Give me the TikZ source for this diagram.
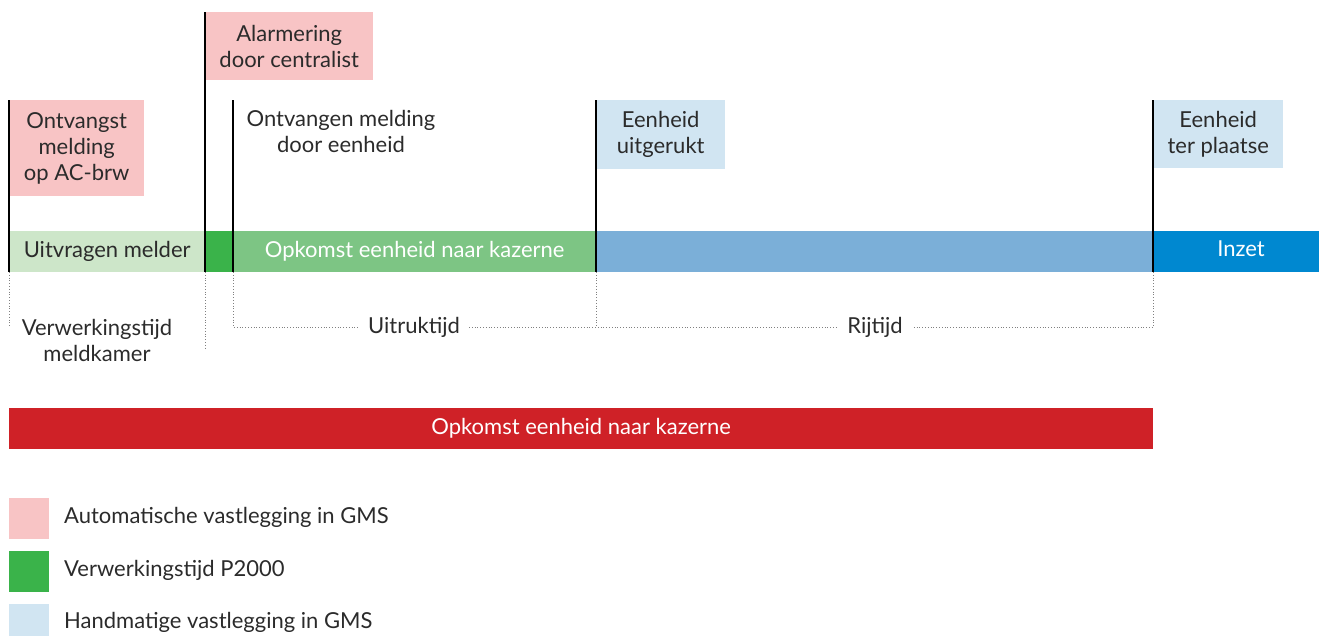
\documentclass[tikz,border=0pt]{standalone}
\usepackage{fontspec}
\setmainfont{Lato}
\definecolor{pinkbox}{HTML}{F8C4C5}
\definecolor{lblue}{HTML}{D1E5F2}
\definecolor{lgreen}{HTML}{CDE6C9}
\definecolor{dgreen}{HTML}{3AB34A}
\definecolor{mgreen}{HTML}{7DC584}
\definecolor{mblue}{HTML}{7BAFD8}
\definecolor{inzet}{HTML}{0088D0}
\definecolor{redbar}{HTML}{CF2127}
\definecolor{txt}{HTML}{2B2B2B}
\tikzset{
  lbl/.style={font=\fontsize{22}{26}\selectfont, text=txt, align=center, inner sep=0pt},
  box/.style={lbl, anchor=north west},
  seg/.style={anchor=north west, inner sep=0pt, minimum height=41pt, font=\fontsize{22}{26}\selectfont, align=center},
  tick/.style={line width=1.6pt, black},
  dots/.style={gray, dotted, line width=0.8pt},
  legsq/.style={anchor=north west, inner sep=0pt, minimum width=40pt, minimum height=41pt},
}
\begin{document}
\begin{tikzpicture}[x=1pt,y=-1pt]
\useasboundingbox (0,0) rectangle (1319,635);
% top boxes
\node[box, fill=pinkbox, minimum width=168pt, minimum height=68pt] (alarm) at (205,12) {Alarmering\\door centralist};
\node[box, fill=pinkbox, minimum width=135pt, minimum height=96pt] (ontv) at (9,100) {Ontvangst\\melding\\op AC-brw};
\node[lbl] (ontveen) at (341,131) {Ontvangen melding\\door eenheid};
\node[box, fill=lblue, minimum width=129pt, minimum height=69pt] (uitgr) at (596,100) {Eenheid\\uitgerukt};
\node[box, fill=lblue, minimum width=130pt, minimum height=68pt] (terpl) at (1153,100) {Eenheid\\ter plaatse};
% bar segments
\node[seg, fill=lgreen, minimum width=196pt, text=txt] (uitvr) at (9,231) {Uitvragen melder};
\node[seg, fill=dgreen, minimum width=28pt] (p2000) at (205,231) {};
\node[seg, fill=mgreen, minimum width=363pt, text=white] (opk) at (233,231) {Opkomst eenheid naar kazerne};
\node[seg, fill=mblue, minimum width=557pt] (rij) at (596,231) {};
\node[seg, fill=inzet, minimum width=166pt] (inz) at (1153,231) {};
\node[lbl, text=white] (inzt) at (1241,249) {Inzet};
% coordinates for ticks
\coordinate (t1a) at (9,100);   \coordinate (t1b) at (9,272);
\coordinate (t2a) at (205,12);  \coordinate (t2b) at (205,272);
\coordinate (t3a) at (233,100); \coordinate (t3b) at (233,272);
\coordinate (t4a) at (596,100); \coordinate (t4b) at (596,272);
\coordinate (t5a) at (1153,100);\coordinate (t5b) at (1153,272);
\draw[tick] (t1a) -- (t1b);
\draw[tick] (t2a) -- (t2b);
\draw[tick] (t3a) -- (t3b);
\draw[tick] (t4a) -- (t4b);
\draw[tick] (t5a) -- (t5b);
% dotted lines
\coordinate (d1) at (9,327);
\coordinate (d2) at (205,348);
\coordinate (d3) at (233,327);
\coordinate (d4) at (596,327);
\coordinate (d5) at (1153,327);
\node[lbl, inner xsep=9pt] (uitrk) at (414,327) {Uitruktijd};
\node[lbl, inner xsep=11pt] (rijt) at (875,327) {Rijtijd};
\node[lbl] (verw) at (97,340) {Verwerkingstijd\\meldkamer};
\draw[dots] (t1b) -- (d1);
\draw[dots] (t2b) -- (d2);
\draw[dots] (t3b) -- (d3) -- (uitrk.west |- d3);
\draw[dots] (uitrk.east |- d3) -- (rijt.west |- d3);
\draw[dots] (rijt.east |- d3) -- (d5);
\draw[dots] (t4b) -- (d4);
\draw[dots] (t5b) -- (d5);
% red bar
\node[seg, fill=redbar, minimum width=1144pt, text=white] (red) at (9,408) {Opkomst eenheid naar kazerne};
% legend
\node[legsq, fill=pinkbox] (l1) at (9,498) {};
\node[legsq, fill=dgreen] (l2) at (9,551) {};
\node[legsq, fill=lblue] (l3) at (9,604) {};
\node[lbl, anchor=west] (l1t) at (64,517) {Automatische vastlegging in GMS};
\node[lbl, anchor=west] (l2t) at (64,570) {Verwerkingstijd P2000};
\node[lbl, anchor=west] (l3t) at (64,622) {Handmatige vastlegging in GMS};
\end{tikzpicture}
\end{document}
